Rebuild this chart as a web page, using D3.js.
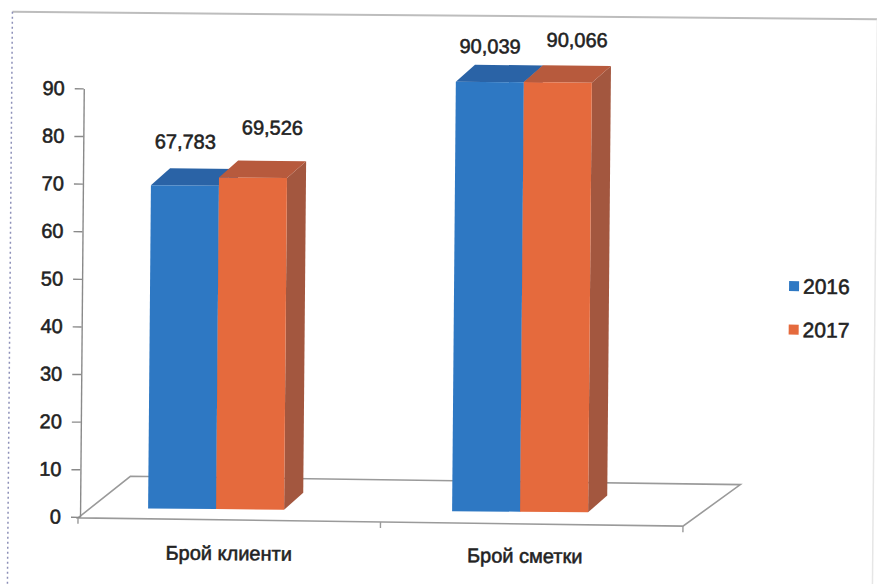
<!DOCTYPE html>
<html>
<head>
<meta charset="utf-8">
<script src="https://cdn.jsdelivr.net/npm/d3@7/dist/d3.min.js"></script>
<style>
  html, body { margin: 0; padding: 0; background: #fff; }
  svg { display: block; }
  text { font-family: "Liberation Sans", Arial, sans-serif; fill: #222; stroke: #222; stroke-width: 0.55px; }
</style>
</head>
<body>
<svg id="chart" width="877" height="584"></svg>
<script>
// ---- data ----
const categories = ["Брой клиенти", "Брой сметки"];
const seriesNames = ["2016", "2017"];
const values2016 = [67.783, 90.039];
const values2017 = [69.526, 90.066];
const yTickValues = [0, 10, 20, 30, 40, 50, 60, 70, 80, 90];

// ---- styling ----
const frontColors = ["#2E78C3", "#E56A3D"];
const topColors   = ["#2A63A6", "#B75A3D"];
const sideColors  = ["#245594", "#A3573F"];

const W = 877, H = 584;
const svg = d3.select("#chart");
// the scanned chart is slightly rotated clockwise
const root = svg.append("g").attr("transform", `rotate(0.5, ${W / 2}, ${H / 2})`);

const seriesValues = [values2016, values2017];
const data = categories.map((c, ci) => ({
  category: c,
  items: seriesNames.map((s, si) => ({ series: s, si, value: seriesValues[si][ci] }))
}));

// ---- scales ----
const yAxisScale = d3.scaleLinear().domain([0, 90]).range([520, 91.5]);
const yBar = d3.scaleLinear().domain([0, 90]).range([511, 81.7]);
const yLabel = d3.scaleLinear().domain([0, 90]).range([442, 46]);
const xBars = d3.scaleBand().domain(categories).range([66, 674]);
const xSeries = d3.scaleBand().domain(seriesNames).range([-68, 68]);
const xFloor = d3.scaleBand().domain(categories).range([80, 685]);
const xLabels = d3.scalePoint().domain(categories).range([231, 527]);
const depth = { dx: 19, dy: -17 };
const floorDepth = { dx: 57, dy: -41 };

const fmt = d3.formatLocale({ decimal: ",", thousands: " ", grouping: [3], currency: ["", ""] }).format(".3f");

// ---- frame ----
root.append("line").attr("x1", 10).attr("y1", 15.5).attr("x2", W + 5).attr("y2", 15.5)
  .attr("stroke", "#bdbdbd").attr("stroke-width", 2);
root.append("line").attr("x1", 10).attr("y1", 15.5).attr("x2", 10).attr("y2", H + 5)
  .attr("stroke", "#8d90b8").attr("stroke-width", 1.5).attr("stroke-dasharray", "2,3");
root.append("line").attr("x1", 875).attr("y1", 15.5).attr("x2", 875).attr("y2", H + 5)
  .attr("stroke", "#e6e6e6").attr("stroke-width", 1.5);

// ---- floor ----
const fy0 = yAxisScale(0) + 1;
const fx0 = xFloor.range()[0], fx1 = xFloor.range()[1];
const floorPts = [
  [fx0, fy0], [fx1, fy0 + 3],
  [fx1 + floorDepth.dx, fy0 + 3 + floorDepth.dy - 1],
  [fx0 + floorDepth.dx - 5, fy0 + floorDepth.dy - 1]
];
root.append("path")
  .attr("d", d3.line()(floorPts) + "Z")
  .attr("fill", "none").attr("stroke", "#9a9a9a").attr("stroke-width", 1.6);

// category ticks on the floor front edge
const catTicks = [fx0, xFloor(categories[1]), fx1];
root.selectAll(".cattick").data(catTicks).enter().append("line")
  .attr("x1", d => d).attr("x2", d => d)
  .attr("y1", d => fy0 + 3 * (d - fx0) / (fx1 - fx0))
  .attr("y2", d => fy0 + 3 * (d - fx0) / (fx1 - fx0) + 6)
  .attr("stroke", "#9a9a9a").attr("stroke-width", 1.4);

// ---- y axis ----
const axisG = root.append("g").attr("transform", "translate(82,0)")
  .call(d3.axisLeft(yAxisScale).tickValues(yTickValues).tickSize(9).tickSizeOuter(0).tickPadding(10).tickFormat(d3.format("d")));
axisG.select(".domain").attr("stroke", "#8a8a8a").attr("stroke-width", 1.4);
axisG.selectAll(".tick line").attr("stroke", "#8a8a8a").attr("stroke-width", 1.4);
axisG.selectAll(".tick text")
  .style("font-family", "'Liberation Sans', Arial, sans-serif")
  .style("font-size", "20px").attr("fill", "#222");

// ---- 3D bars ----
data.forEach(group => {
  const gx = xBars(group.category) + xBars.bandwidth() / 2;
  group.items.forEach(it => {
    const x0 = gx + xSeries(it.series);
    const w = xSeries.bandwidth();
    const yt = yBar(it.value), yb = yBar(0);
    const g = root.append("g");
    // side face
    g.append("path").attr("d", d3.line()([
      [x0 + w, yt], [x0 + w + depth.dx, yt + depth.dy],
      [x0 + w + depth.dx, yb + depth.dy], [x0 + w, yb]
    ]) + "Z").attr("fill", sideColors[it.si]);
    // top face
    g.append("path").attr("d", d3.line()([
      [x0, yt], [x0 + w, yt],
      [x0 + w + depth.dx, yt + depth.dy], [x0 + depth.dx, yt + depth.dy]
    ]) + "Z").attr("fill", topColors[it.si]);
    // front face
    g.append("rect").attr("x", x0).attr("y", yt).attr("width", w).attr("height", yb - yt)
      .attr("fill", frontColors[it.si]);
  });
});

// ---- value labels ----
data.forEach(group => {
  const gx = xBars(group.category) + xBars.bandwidth() / 2;
  group.items.forEach(it => {
    const x0 = gx + xSeries(it.series);
    root.append("text")
      .attr("x", x0 + xSeries.bandwidth() / 2 + it.si * depth.dx)
      .attr("y", yLabel(it.value) - 7 * it.si)
      .attr("dy", "0.35em")
      .attr("text-anchor", "middle")
      .style("font-size", "20px")
      .text(fmt(it.value));
  });
});

// ---- category labels ----
root.selectAll(".catlabel").data(categories).enter().append("text")
  .attr("x", d => xLabels(d))
  .attr("y", 555)
  .attr("dy", "0.35em")
  .attr("text-anchor", "middle")
  .style("font-size", "20px")
  .text(d => d);

// ---- legend ----
const legend = root.append("g").attr("transform", "translate(789,283)");
seriesNames.forEach((s, i) => {
  const lg = legend.append("g").attr("transform", `translate(0,${i * 43.5})`);
  lg.append("rect").attr("x", 0).attr("y", -5).attr("width", 10).attr("height", 10)
    .attr("fill", frontColors[i]);
  lg.append("text").attr("x", 14).attr("y", 0).attr("dy", "0.36em")
    .style("font-size", "21px").text(s);
});
</script>
</body>
</html>
